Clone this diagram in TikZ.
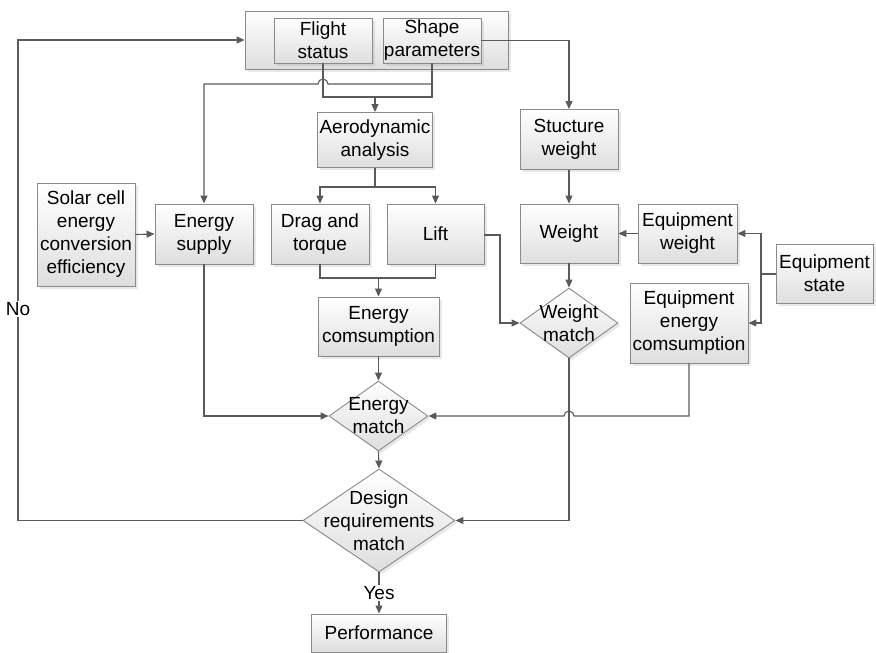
\documentclass[tikz,border=0pt]{standalone}
\usepackage{fontspec}
\setmainfont{Liberation Sans}
\usetikzlibrary{arrows.meta,shapes.geometric,shadows}

\definecolor{wire}{HTML}{5A5A5A}
\definecolor{rim}{HTML}{8A8A8A}

\begin{document}
\begin{tikzpicture}[x=1pt,y=-1pt,font=\fontsize{19}{23}\selectfont,
  box/.style={rectangle,draw=rim,line width=.9pt,top color=white,bottom color=black!13,
    drop shadow={opacity=.18,shadow xshift=2.5pt,shadow yshift=-2.5pt},
    align=center,inner sep=0pt},
  decision/.style={diamond,draw=rim,line width=.9pt,top color=white,bottom color=black!13,
    drop shadow={opacity=.18,shadow xshift=2.5pt,shadow yshift=-2.5pt},inner sep=0pt},
  line/.style={draw=wire,line width=1.1pt},
  arrow/.style={line,-{Triangle[length=8pt,width=7pt]}}]
\useasboundingbox (0,0) rectangle (876,653);
% input frame
\node[box,minimum width=263pt,minimum height=58pt] (frame) at (376.5,40) {};
\node[box,minimum width=98pt,minimum height=45pt] (flight) at (323,40.5) {Flight\\status};
\node[box,minimum width=98pt,minimum height=45pt] (shape) at (432,40.5) {Shape\\parameters};
% blocks
\node[box,minimum width=115pt,minimum height=55pt] (aero) at (375,140) {Aerodynamic\\analysis};
\node[box,minimum width=98pt,minimum height=60pt] (strw) at (569,139.5) {Stucture\\weight};
\node[box,minimum width=98pt,minimum height=103pt] (solar) at (86,234.5) {Solar cell\\energy\\conversion\\efficiency};
\node[box,minimum width=98pt,minimum height=60pt] (supply) at (204,234) {Energy\\supply};
\node[box,minimum width=98pt,minimum height=60pt] (drag) at (320,234) {Drag and\\torque};
\node[box,minimum width=97pt,minimum height=60pt] (lift) at (435.5,234) {Lift};
\node[box,minimum width=98pt,minimum height=59pt] (weight) at (569,233.5) {Weight};
\node[box,minimum width=99pt,minimum height=59pt] (eqw) at (687.5,233.5) {Equipment\\weight};
\node[box,minimum width=97pt,minimum height=59pt] (eqs) at (824.5,273.5) {Equipment\\state};
\node[box,minimum width=121pt,minimum height=59pt] (econs) at (378.5,326.5) {Energy\\comsumption};
\node[box,minimum width=118pt,minimum height=80pt] (eqec) at (689,323) {Equipment\\energy\\comsumption};
\node[box,minimum width=135pt,minimum height=38pt] (perf) at (379,633) {Performance};
% checks
\node[decision,minimum width=98pt,minimum height=70pt,
  label={[align=center]center:Weight\\match}] (wmatch) at (569,323) {};
\node[decision,minimum width=99pt,minimum height=70pt,
  label={[align=center]center:Energy\\match}] (ematch) at (378.5,416) {};
\node[decision,minimum width=152pt,minimum height=103pt,
  label={[align=center]center:Design\\requirements\\match}] (dmatch) at (379,520.5) {};
% inputs to analysis
\coordinate (join) at (aero.north |- 0,97);
\coordinate (tap) at (shape.south |- 0,84);
\draw[line] (flight.south) |- (join) -| (shape.south);
\draw[arrow] (join) -- (aero.north);
\draw[arrow] (tap) -- (328,84) arc (0:-180:5) -- (supply.north |- tap) -- (supply.north);
\draw[arrow] (shape.east) -| (strw.north);
\coordinate (fork) at (aero.south |- 0,187);
\draw[line] (aero.south) -- (fork);
\draw[arrow] (fork) -| (drag.north);
\draw[arrow] (fork) -| (lift.north);
\coordinate (sum) at (econs.north |- 0,278);
\draw[line] (drag.south) |- (sum) -| (lift.south);
\draw[arrow] (sum) -- (econs.north);
\draw[arrow] (solar.east) -- (supply.west);
% energy branch
\draw[arrow] (supply.south) |- (ematch.west);
\draw[arrow] (econs.south) -- (ematch.north);
\draw[arrow] (eqec.south) -- (eqec.south |- ematch) -- (574,416) arc (0:-180:5) -- (ematch.east);
% weight branch
\coordinate (bend) at (500,235);
\draw[arrow] (lift.east |- bend) -- (bend) |- (wmatch.west);
\draw[arrow] (strw.south) -- (weight.north);
\draw[arrow] (weight.south) -- (wmatch.north);
\draw[arrow] (eqw.west) -- (weight.east);
\coordinate (bus) at (761,274);
\draw[line] (eqs.west |- bus) -- (bus);
\draw[arrow] (bus) |- (eqw.east);
\draw[arrow] (bus) |- (eqec.east);
% final checks
\draw[arrow] (wmatch.south) |- (dmatch.east);
\draw[arrow] (ematch.south) -- (dmatch.north);
\draw[arrow] (dmatch.south) -- node[fill=white,inner sep=1pt,pos=.5] (yes) {Yes} (perf.north);
\coordinate (back) at (18,520.5);
\draw[arrow] (dmatch.west) -- (back) -- node[fill=white,inner sep=1pt,pos=.44] (no) {No} (back |- 0,40) -- (frame.west);
\end{tikzpicture}
\end{document}
